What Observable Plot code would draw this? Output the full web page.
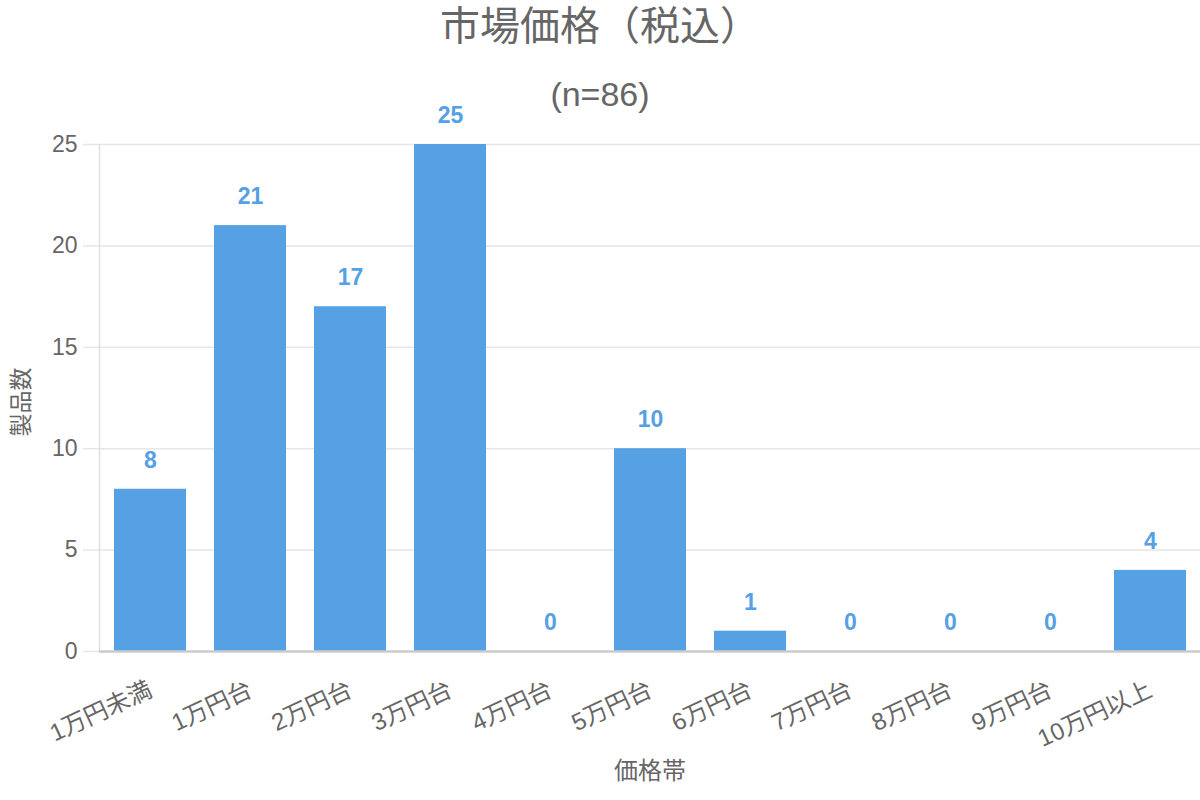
<!DOCTYPE html>
<html>
<head>
<meta charset="utf-8">
<script src="https://cdn.jsdelivr.net/npm/d3@7"></script>
<script src="https://cdn.jsdelivr.net/npm/@observablehq/plot@0.6"></script>
<style>
  html, body { margin: 0; padding: 0; background: #fff; }
  body { width: 1200px; height: 800px; overflow: hidden; font-family: 'Liberation Sans', 'Noto Sans CJK JP', sans-serif; }
  #header { position: relative; width: 1200px; height: 100px; }
  #title { position: absolute; left: 0; width: 1200px; top: 6px; text-align: center; font-size: 40px; line-height: 40px; color: #666; }
  #subtitle { position: absolute; left: 0; width: 1200px; top: 77px; text-align: center; font-size: 34px; line-height: 34px; color: #666; }
</style>
</head>
<body>
<div id="header">
  <div id="title">市場価格（税込）</div>
  <div id="subtitle">(n=86)</div>
</div>
<div id="chart"></div>
<script>
const categories = ["1万円未満", "1万円台", "2万円台", "3万円台", "4万円台", "5万円台", "6万円台", "7万円台", "8万円台", "9万円台", "10万円以上"];
const counts = [8, 21, 17, 25, 0, 10, 1, 0, 0, 0, 4];
const yTicks = [0, 5, 10, 15, 20, 25];
const xLabel = "価格帯";
const yLabel = "製品数";

const data = categories.map((c, i) => ({category: c, count: counts[i]}));

const barColor = "#56a0e4";
const textColor = "#666666";

const chart = Plot.plot({
  width: 1200,
  height: 700,
  marginTop: 44,
  marginBottom: 149,
  marginLeft: 99,
  marginRight: 0,
  style: {fontFamily: "'Liberation Sans', 'Noto Sans CJK JP', sans-serif", background: "transparent"},
  x: {domain: categories, paddingInner: 0.28, paddingOuter: 0.14, label: null},
  y: {domain: [0, 25], label: null},
  marks: [
    Plot.ruleY(yTicks, {stroke: "#e6e6e6", strokeWidth: 1.5}),
    Plot.frame({anchor: "left", stroke: "#e0e0e0", strokeWidth: 1.5}),
    Plot.axisY({ticks: yTicks, tickSize: 16, tickPadding: 6, stroke: "#e6e6e6", strokeWidth: 1.5, fill: textColor, fontSize: 23, label: null}),
    Plot.barY(data, {x: "category", y: "count", fill: barColor}),
    Plot.ruleY([0], {stroke: "#cccccc", strokeWidth: 2.5}),
    Plot.axisX({tickSize: 0, tickPadding: 37, tickRotate: -25, fill: textColor, fontSize: 24, label: null}),
    Plot.text(data, {x: "category", y: "count", text: d => String(d.count), dy: -29, fill: "#56a0e5", fontWeight: "bold", fontSize: 23}),
    Plot.text([xLabel], {frameAnchor: "bottom", dy: 127, text: d => d, fill: textColor, fontSize: 24}),
    Plot.text([yLabel], {frameAnchor: "left", textAnchor: "middle", dx: -78, dy: 4, rotate: -90, text: d => d, fill: textColor, fontSize: 23})
  ]
});
document.getElementById("chart").appendChild(chart);
</script>
</body>
</html>
